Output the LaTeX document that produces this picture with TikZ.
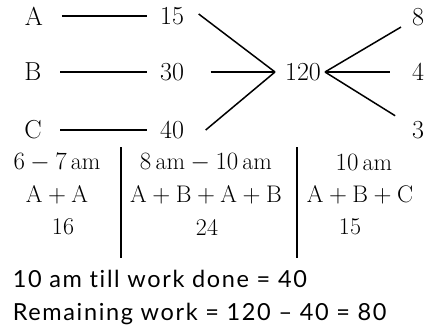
\documentclass[tikz,border=0pt]{standalone}
\usepackage{amsmath}
\usepackage{fontspec}
\newfontfamily\notefont[LetterSpace=7, Ligatures=NoCommon]{Lato}
\usetikzlibrary{calc}

\begin{document}
\begin{tikzpicture}[
  x=1pt, y=-1pt, line width=1.5pt,
  lbl/.style={font=\fontsize{26}{28}\selectfont, inner sep=0pt},
  thick line/.style={line width=2.6pt},
  cell/.style={font=\fontsize{24}{26}\selectfont, inner sep=0pt},
  note/.style={font=\notefont\fontsize{23.5}{26}\selectfont, anchor=base west, inner sep=0pt}]
  \useasboundingbox (0,0) rectangle (431,329);

  % linke Seite: Personen und Raten
  \node[lbl] (A)   at (34,16)  {A};
  \node[lbl] (B)   at (33,72)  {B};
  \node[lbl] (C)   at (33,130) {C};
  \node[lbl] (n15) at (172,16)  {15};
  \node[lbl] (n30) at (172,72)  {30};
  \node[lbl] (n40) at (172,130) {40};

  \draw[shorten <=18pt, shorten >=12pt] (A) -- (n15);
  \draw[thick line, shorten <=18pt, shorten >=12pt] (B) -- (n30);
  \draw[shorten <=18pt, shorten >=12pt] (C.east) -- (n40.west);

  % Gesamtarbeit
  \node[lbl] (tot) at (303,72) {120};
  \coordinate (hl) at (275,72);
  \coordinate (hr) at (325,72);

  \draw ($(n15.east)+(14,-2)$) -- (hl);
  \draw[thick line] ($(n30.east)+(26,0)$) -- (hl);
  \draw ($(n40.east)+(21,0)$) -- (hl);

  % rechte Seite: Tage
  \node[lbl] (n8) at (418,17)  {8};
  \node[lbl] (n4) at (418,72)  {4};
  \node[lbl] (n3) at (418,130) {3};

  \draw[shorten >=12pt] (hr) -- (n8);
  \draw[thick line, shorten >=21pt] (hr) -- (n4);
  \draw[shorten >=19pt] (hr) -- (n3);

  % Tabelle
  \node[cell] (t11) at (57,163)  {$6-7\,\text{am}$};
  \node[cell] (t12) at (206,163) {$8\,\text{am}-10\,\text{am}$};
  \node[cell] (t13) at (364,163) {$10\,\text{am}$};
  \node[cell] (t21) at (57,195)  {$\text{A}+\text{A}$};
  \node[cell] (t22) at (206,195) {$\text{A}+\text{B}+\text{A}+\text{B}$};
  \node[cell] (t23) at (360,195) {$\text{A}+\text{B}+\text{C}$};
  \node[cell] (t31) at (63,227)  {16};
  \node[cell] (t32) at (207,227) {24};
  \node[cell] (t33) at (350,227) {15};

  \coordinate (b1t) at (121,147);
  \coordinate (b1b) at (121,258);
  \coordinate (b2t) at (297,147);
  \coordinate (b2b) at (297,258);
  \draw[line width=1.1pt] (b1t) -- (b1b);
  \draw[line width=1.1pt] (b2t) -- (b2b);

  % Ergebnis
  \node[note] (r1) at (12,287) {10 am till work done = 40};
  \node[note] (r2) at (12,320) {Remaining work = 120 – 40 = 80};
\end{tikzpicture}
\end{document}
